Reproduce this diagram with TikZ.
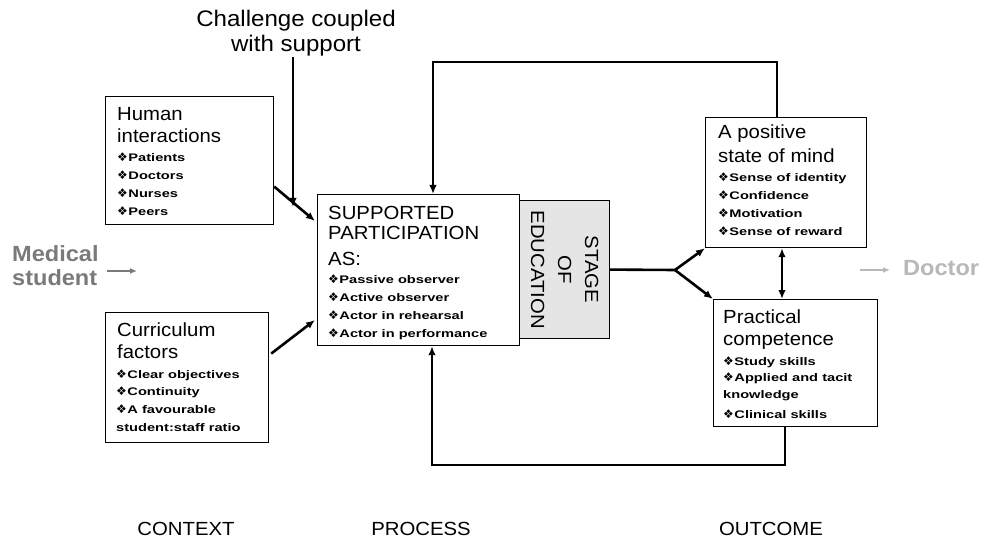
\documentclass[tikz,border=0pt]{standalone}
\usepackage{fontspec}
\setmainfont{Liberation Sans}[FakeStretch=1.07]
\newfontfamily\itemfont{Liberation Sans}[FakeStretch=1.33]
\newfontfamily\symfont{DejaVu Sans}
\usetikzlibrary{arrows.meta, calc, positioning}
\definecolor{medgray}{gray}{0.48}
\definecolor{docgray}{gray}{0.72}
\definecolor{stagegray}{gray}{0.9}
\newcommand{\bul}{{\symfont\fontsize{12}{12}\selectfont ❖}\hspace{0.5pt}}

\begin{document}
\begin{tikzpicture}[
    x=1pt, y=-1pt,
    box/.style={draw, line width=1.2pt, fill=white, inner sep=0pt, anchor=north west},
    ttl/.style={anchor=base west, inner sep=0pt, font=\fontsize{19}{22}\selectfont},
    itm/.style={anchor=base west, inner sep=0pt, font=\itemfont\bfseries\fontsize{11}{13}\selectfont},
    big/.style={anchor=base, inner sep=0pt, font=\fontsize{22.5}{25}\selectfont},
    side/.style={anchor=base west, inner sep=0pt, font=\bfseries\fontsize{22}{24}\selectfont},
    lbl/.style={anchor=base, inner sep=0pt, font=\fontsize{19}{22}\selectfont},
    thk/.style={line width=2.6pt},
    arr/.style={thk, -{Latex[length=9pt, width=7.5pt]}},
    dbl/.style={thk, {Latex[length=9pt, width=7.5pt]}-{Latex[length=9pt, width=7.5pt]}},
    grayarr/.style={line width=2.2pt, -{Latex[length=7pt, width=6pt]}},
]
\useasboundingbox (0,0) rectangle (984,545);

% --- boxes ---
\node[box, minimum width=168pt, minimum height=128pt] (human) at (105,96) {};
\node[box, minimum width=163pt, minimum height=130pt] (curr) at (105,312) {};
\node[box, fill=stagegray, minimum width=90pt, minimum height=138pt] (stage) at (519,200) {};
\node[box, minimum width=202pt, minimum height=151pt] (part) at (317,194) {};
\node[box, minimum width=161pt, minimum height=130pt] (positive) at (705,117) {};
\node[box, minimum width=164pt, minimum height=127pt] (pract) at (713,299) {};

% --- context: human interactions ---
\foreach \y/\t [count=\i] in {121/Human, 143/interactions}
  \node[ttl] (human-t\i) at (117,\y) {\t};
\foreach \y/\t [count=\i] in {162/{\bul Patients}, 180/{\bul Doctors},
                              198/{\bul Nurses}, 216/{\bul Peers}}
  \node[itm] (human-i\i) at (117,\y) {\t};

% --- context: curriculum factors ---
\foreach \y/\t [count=\i] in {336/Curriculum, 358/factors}
  \node[ttl] (curr-t\i) at (117,\y) {\t};
\foreach \y/\t [count=\i] in {378/{\bul Clear objectives}, 395/{\bul Continuity},
                              413/{\bul A favourable}, 431/{student:staff ratio}}
  \node[itm] (curr-i\i) at (116,\y) {\t};

% --- process: supported participation ---
\foreach \y/\t [count=\i] in {219/SUPPORTED, 240/PARTICIPATION, 265/AS:}
  \node[ttl] (part-t\i) at (328,\y) {\t};
\foreach \y/\t [count=\i] in {283/{\bul Passive observer}, 301/{\bul Active observer},
                              319/{\bul Actor in rehearsal}, 337/{\bul Actor in performance}}
  \node[itm] (part-i\i) at (328,\y) {\t};

\node[rotate=-90, align=center, inner sep=0pt, font=\fontsize{19}{27}\selectfont]
      (stage-t) at (stage.center) {STAGE\\OF\\EDUCATION};

% --- outcome: positive state of mind ---
\foreach \y/\t [count=\i] in {139/A positive, 163/state of mind}
  \node[ttl] (positive-t\i) at (718,\y) {\t};
\foreach \y/\t [count=\i] in {182/{\bul Sense of identity}, 200/{\bul Confidence},
                              218/{\bul Motivation}, 236/{\bul Sense of reward}}
  \node[itm] (positive-i\i) at (718,\y) {\t};

% --- outcome: practical competence ---
\foreach \y/\t [count=\i] in {323/Practical, 345/competence}
  \node[ttl] (pract-t\i) at (723,\y) {\t};
\foreach \y/\t [count=\i] in {365/{\bul Study skills}, 381/{\bul Applied and tacit},
                              398/{knowledge}, 418/{\bul Clinical skills}}
  \node[itm] (pract-i\i) at (723,\y) {\t};

% --- free labels ---
\node[big] (chal1) at (296,27) {Challenge coupled};
\node[big] (chal2) at (296,52) {with support};
\node[side, text=medgray] (med1) at (12,261) {Medical};
\node[side, text=medgray] (med2) at (12,285) {student};
\node[side, text=docgray] (doc) at (903,275) {Doctor};
\node[lbl] (ctx) at (186,535) {CONTEXT};
\node[lbl] (proc) at (421,535) {PROCESS};
\node[lbl] (outc) at (771,535) {OUTCOME};

% --- helper points ---
\coordinate (chalTip) at (293,207);
\coordinate (hiTip)   at (315,221);
\coordinate (cfTip)   at (315,320);
\coordinate (fork)    at (675,270);
\coordinate (fbTop)   at (777,62);
\coordinate (fbTopL)  at (433,62);
\coordinate (fbBot)   at (785,465);
\coordinate (fbBotL)  at (432,465);
\coordinate (dblX)    at (782,0);
\coordinate (medB)    at (137,271);
\coordinate (docA)    at (860,270);

% --- connectors ---
\draw[arr] (chalTip |- chal2.south) -- (chalTip);
\draw[arr] ($(human.east)+(0,26)$) -- (hiTip);
\draw[arr] ($(curr.east)+(2,-24)$) -- (cfTip);
\draw[thk] (stage.east) -- (fork);
\draw[arr] (fork) -- (positive.south west);
\draw[arr] (fork) -- (pract.north west);
\draw[dbl] (dblX |- positive.south) -- (dblX |- pract.north);
% feedback loops
\draw[arr] (fbTop |- positive.north) -- (fbTop) -- (fbTopL) -- (fbTopL |- part.north);
\draw[arr] (fbBot |- pract.south) -- (fbBot) -- (fbBotL) -- (fbBotL |- part.south);
% entry and exit
\draw[grayarr, medgray] ([xshift=10pt]med2.east |- medB) -- (medB);
\draw[grayarr, docgray] (docA) -- ([xshift=-13pt]doc.west |- docA);
\end{tikzpicture}
\end{document}
